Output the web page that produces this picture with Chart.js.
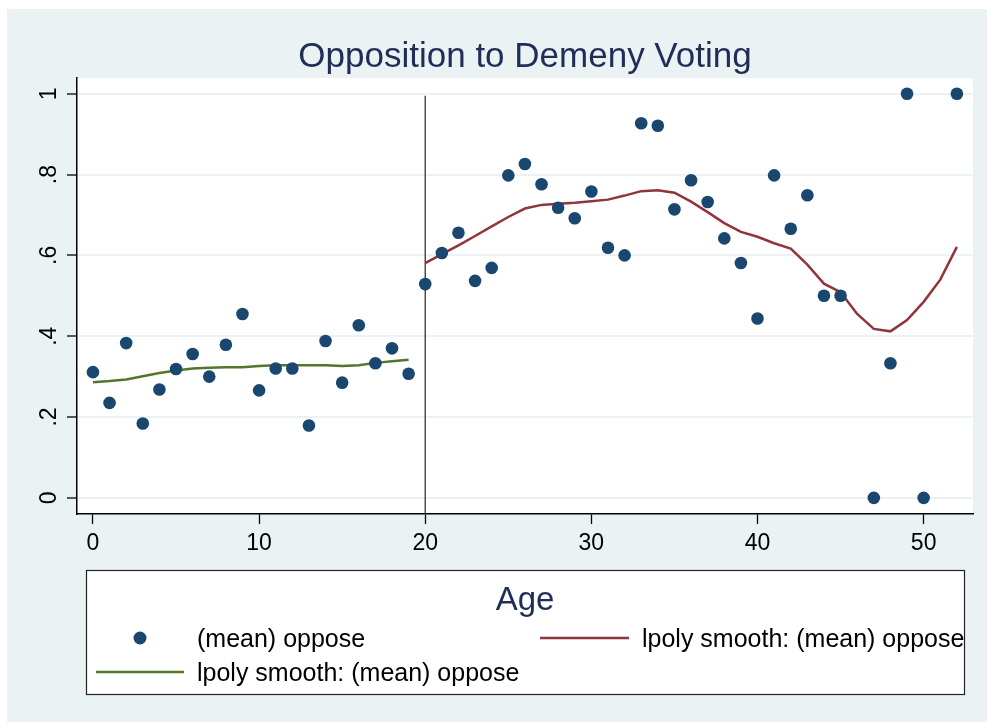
<!DOCTYPE html>
<html>
<head>
<meta charset="utf-8">
<script src="https://cdn.jsdelivr.net/npm/chart.js@4"></script>
<style>
  html, body { margin: 0; padding: 0; background: #ffffff; }
  canvas { display: block; }
</style>
</head>
<body>
<canvas id="demenyChart" width="987" height="722"></canvas>
<script>
// Age and mean share opposing
let ages = [0, 1, 2, 3, 4, 5, 6, 7, 8, 9, 10, 11, 12, 13, 14, 15, 16, 17, 18, 19,
            20, 21, 22, 23, 24, 25, 26, 27, 28, 29, 30, 31, 32, 33, 34, 35, 36, 37, 38, 39,
            40, 41, 42, 43, 44, 45, 47, 48, 49, 50, 52];
let meanOppose = [0.311, 0.235, 0.383, 0.184, 0.268, 0.319, 0.356, 0.300, 0.379, 0.455,
                  0.266, 0.320, 0.320, 0.179, 0.388, 0.285, 0.427, 0.333, 0.370, 0.307,
                  0.529, 0.606, 0.656, 0.537, 0.569, 0.798, 0.826, 0.776, 0.718, 0.692,
                  0.758, 0.619, 0.600, 0.927, 0.921, 0.714, 0.786, 0.732, 0.642, 0.581,
                  0.444, 0.798, 0.666, 0.749, 0.500, 0.500, 0.000, 0.333, 1.000, 0.000, 1.000];

// lpoly smooth, age 20 and over
let smoothOldAges = [20, 21, 22, 23, 24, 25, 26, 27, 28, 29, 30, 31, 32, 33, 34, 35, 36,
                     37, 38, 39, 40, 41, 42, 43, 44, 45, 46, 47, 48, 49, 50, 51, 52];
let smoothOld = [0.581, 0.603, 0.625, 0.648, 0.672, 0.695, 0.716, 0.725, 0.728, 0.730,
                 0.734, 0.738, 0.748, 0.759, 0.761, 0.755, 0.733, 0.707, 0.680, 0.658,
                 0.646, 0.630, 0.617, 0.577, 0.530, 0.509, 0.455, 0.418, 0.412, 0.440,
                 0.485, 0.540, 0.621];

// lpoly smooth, under 20
let smoothYoungAges = [0, 1, 2, 3, 4, 5, 6, 7, 8, 9, 10, 11, 12, 13, 14, 15, 16, 17, 18, 19];
let smoothYoung = [0.286, 0.289, 0.293, 0.301, 0.309, 0.315, 0.320, 0.322, 0.323, 0.323,
                   0.326, 0.328, 0.328, 0.328, 0.328, 0.326, 0.328, 0.334, 0.338, 0.342];

let cutoffAge = 20;
let xTicks = [0, 10, 20, 30, 40, 50];
let yTicks = [0, 0.2, 0.4, 0.6, 0.8, 1];
let yTickLabels = ["0", ".2", ".4", ".6", ".8", "1"];
let legendLabels = ["(mean) oppose", "lpoly smooth: (mean) oppose", "lpoly smooth: (mean) oppose"];
let titleText = "Opposition to Demeny Voting";
let xTitle = "Age";

const FONT = "'Liberation Sans', Arial, sans-serif";
const NAVY = "#1a476f";
const MAROON = "#90353b";
const GREEN = "#55752f";
const BG = "#eaf2f3";
const TITLE = "#1f2d57";

function toPoints(xs, ys) {
    return xs.map((x, i) => ({ x: x, y: ys[i] }));
}

// backgrounds, rotated y labels, title and the boxed legend
const stataLook = {
    id: "stataLook",
    beforeDraw(chart) {
        let ctx = chart.ctx;
        let area = chart.chartArea;
        ctx.save();
        ctx.fillStyle = "#ffffff";
        ctx.fillRect(0, 0, chart.width, chart.height);
        ctx.fillStyle = BG;
        ctx.fillRect(7, 9, chart.width - 7, chart.height - 9);
        ctx.fillStyle = "#ffffff";
        ctx.fillRect(area.left, area.top, area.right - area.left, area.bottom - area.top);
        ctx.restore();
    },
    afterDraw(chart) {
        let ctx = chart.ctx;
        let area = chart.chartArea;
        let yScale = chart.scales.y;
        let midX = (area.left + area.right) / 2;
        ctx.save();

        // y tick labels, turned like Stata does
        ctx.fillStyle = "#000000";
        ctx.font = "23px " + FONT;
        ctx.textAlign = "center";
        ctx.textBaseline = "alphabetic";
        yTicks.forEach((v, i) => {
            ctx.save();
            ctx.translate(56, yScale.getPixelForValue(v));
            ctx.rotate(-Math.PI / 2);
            ctx.fillText(yTickLabels[i], 0, 0);
            ctx.restore();
        });

        // title
        ctx.fillStyle = TITLE;
        ctx.font = "35px " + FONT;
        ctx.fillText(titleText, midX, 67);

        // legend box
        let box = { left: 86, top: 570, right: 965, bottom: 695 };
        ctx.fillStyle = "#ffffff";
        ctx.fillRect(box.left, box.top, box.right - box.left, box.bottom - box.top);
        ctx.strokeStyle = "#222222";
        ctx.lineWidth = 1.2;
        ctx.strokeRect(box.left + 0.5, box.top + 0.5, box.right - box.left - 1, box.bottom - box.top - 1);

        // axis title sits inside the box
        ctx.fillStyle = TITLE;
        ctx.font = "33px " + FONT;
        ctx.textAlign = "center";
        ctx.fillText(xTitle, midX, 610);

        ctx.font = "25px " + FONT;
        ctx.textAlign = "left";
        ctx.fillStyle = "#000000";

        ctx.beginPath();
        ctx.arc(140, 638, 6.5, 0, Math.PI * 2);
        ctx.fillStyle = NAVY;
        ctx.fill();
        ctx.fillStyle = "#000000";
        ctx.fillText(legendLabels[0], 197, 647);

        ctx.lineWidth = 2.5;
        ctx.strokeStyle = MAROON;
        ctx.beginPath();
        ctx.moveTo(540, 638);
        ctx.lineTo(629, 638);
        ctx.stroke();
        ctx.fillText(legendLabels[1], 642, 647);

        ctx.strokeStyle = GREEN;
        ctx.beginPath();
        ctx.moveTo(96, 672);
        ctx.lineTo(184, 672);
        ctx.stroke();
        ctx.fillText(legendLabels[2], 197, 681);

        ctx.restore();
    }
};

let ctx = document.getElementById("demenyChart").getContext("2d");
let demenyChart = new Chart(ctx, {
    type: "scatter",
    data: {
        datasets: [
            {
                label: legendLabels[0],
                data: toPoints(ages, meanOppose),
                backgroundColor: NAVY,
                borderWidth: 0,
                pointRadius: 6.3,
                showLine: false
            },
            {
                label: legendLabels[1],
                data: toPoints(smoothOldAges, smoothOld),
                borderColor: MAROON,
                borderWidth: 2.5,
                pointRadius: 0,
                showLine: true,
                fill: false
            },
            {
                label: legendLabels[2],
                data: toPoints(smoothYoungAges, smoothYoung),
                borderColor: GREEN,
                borderWidth: 2.5,
                pointRadius: 0,
                showLine: true,
                fill: false
            },
            {
                label: "xline",
                data: [{ x: cutoffAge, y: -0.04 }, { x: cutoffAge, y: 0.995 }],
                borderColor: "#333333",
                borderWidth: 1.3,
                pointRadius: 0,
                showLine: true,
                fill: false
            }
        ]
    },
    options: {
        responsive: false,
        animation: false,
        layout: { padding: { top: 78, right: 14, bottom: 0, left: 0 } },
        plugins: {
            legend: { display: false },
            title: { display: false },
            tooltip: { enabled: false }
        },
        scales: {
            x: {
                type: "linear",
                min: -0.96,
                max: 52.97,
                afterBuildTicks: scale => { scale.ticks = xTicks.map(v => ({ value: v })); },
                afterFit: scale => { scale.height = 208; },
                border: { color: "#000000", width: 1.5 },
                grid: { drawOnChartArea: false, drawTicks: true, tickLength: 10, tickColor: "#000000", tickWidth: 1.3 },
                ticks: { color: "#000000", font: { family: FONT, size: 23 }, padding: 6, maxRotation: 0 }
            },
            y: {
                type: "linear",
                min: -0.04,
                max: 1.039,
                afterBuildTicks: scale => { scale.ticks = yTicks.map(v => ({ value: v })); },
                afterFit: scale => { scale.width = 77; },
                border: { color: "#000000", width: 1.5 },
                grid: { color: BG, lineWidth: 2, drawTicks: true, tickLength: 10, tickColor: "#000000", tickWidth: 1.3 },
                ticks: { display: false }
            }
        }
    },
    plugins: [stataLook]
});
</script>
</body>
</html>
